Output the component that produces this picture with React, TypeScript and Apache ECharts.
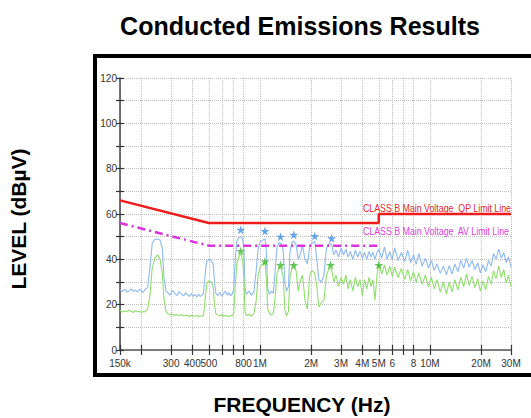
import React, { useEffect, useRef } from "react";
import * as echarts from "echarts";

// Measured trace: frequency (MHz), peak (QP scan, blue) and average (AV scan, green) levels in dBµV
const traceFreqMHz = [
  0.150, 0.155, 0.160, 0.165, 0.170, 0.175, 0.180, 0.185, 0.190, 0.195, 0.200, 0.205, 0.210, 0.218,
  0.225, 0.232, 0.240, 0.250, 0.258, 0.266, 0.272, 0.280,
  0.285, 0.295, 0.305, 0.315, 0.325, 0.335, 0.345, 0.355, 0.365, 0.375, 0.385, 0.395, 0.405, 0.415, 0.425, 0.435, 0.445, 0.455, 0.465,
  0.475, 0.485, 0.500, 0.515, 0.530, 0.540, 0.550,
  0.565, 0.580, 0.595, 0.610, 0.625, 0.640, 0.655, 0.670, 0.685, 0.700,
  0.715, 0.730, 0.750, 0.770, 0.790, 0.805, 0.815,
  0.830, 0.860, 0.890, 0.920,
  0.950, 0.975, 1.000, 1.040, 1.070, 1.090, 1.110, 1.140, 1.170, 1.200,
  1.230, 1.260, 1.300, 1.330, 1.370, 1.400, 1.430, 1.470,
  1.500, 1.540, 1.580, 1.630, 1.680, 1.720, 1.780, 1.840, 1.900, 1.960, 2.020, 2.100, 2.160, 2.220, 2.300, 2.380,
  2.460, 2.550, 2.640, 2.720, 2.800, 2.900, 3.000, 3.100, 3.200, 3.300, 3.400, 3.520, 3.640, 3.760, 3.880,
  4.000, 4.120, 4.250, 4.380, 4.500, 4.620, 4.750, 4.880,
  5.0, 5.2, 5.4, 5.6, 5.8, 6.0, 6.2, 6.5, 6.8, 7.1, 7.4, 7.7, 8.0, 8.3, 8.6, 9.0, 9.4, 9.8, 10.2, 10.6,
  11.0, 11.5, 12.0, 12.5, 13.0, 13.5, 14.0, 14.6, 15.2, 15.8, 16.4, 17.0, 17.7, 18.4, 19.1, 19.8, 20.5,
  21.3, 22.1, 22.9, 23.7, 24.5, 25.4, 26.3, 27.2, 28.1, 29.0, 30.0,
];

const peakTrace = [
  26.5, 25.8, 26.9, 25.5, 26.2, 27.0, 25.9, 26.4, 25.6, 26.8, 26.1, 25.4, 26.6, 27.5,
  36.0, 47.0, 48.8, 49.0, 48.5, 45.0, 32.0, 26.0,
  25.5, 24.2, 26.3, 25.1, 24.0, 25.8, 24.6, 23.9, 25.2, 24.4, 23.6, 24.9, 23.8, 24.5, 23.4, 24.7, 23.6, 24.2, 25.0,
  33.0, 39.0, 40.0, 39.5, 38.0, 30.0, 25.0,
  24.0, 25.5, 23.8, 24.9, 26.0, 24.2, 25.3, 23.9, 24.8, 26.5,
  40.0, 48.0, 49.5, 50.0, 49.0, 44.0, 28.0,
  24.5, 26.0, 24.2, 25.5,
  35.0, 45.0, 47.5, 48.5, 49.0, 44.0, 27.0, 24.5, 26.0, 25.0,
  36.0, 45.5, 47.5, 47.0, 44.0, 30.0, 26.0, 28.0,
  43.0, 47.5, 48.0, 46.5, 40.0, 42.0, 46.0, 40.0, 38.0, 45.0, 47.0, 48.0, 40.0, 31.0, 30.0, 33.0,
  45.0, 47.0, 46.5, 42.0, 44.0, 41.0, 45.0, 42.0, 44.5, 41.0, 43.5, 40.0, 44.0, 41.0, 43.5,
  40.5, 43.0, 40.0, 43.5, 41.0, 43.0, 40.0, 43.0,
  44.5, 40.5, 45.5, 40.0, 43.5, 39.8, 45.0, 39.5, 43.0, 39.0, 44.0, 38.5, 42.0, 37.8, 42.5, 37.0, 40.5, 36.2, 39.5, 35.0,
  38.0, 33.8, 37.0, 33.2, 37.2, 33.5, 38.0, 34.5, 39.5, 36.0, 40.5, 36.5, 39.5, 35.5, 38.5, 34.0, 37.5,
  34.5, 39.5, 37.0, 42.5, 40.0, 44.5, 40.5, 43.0, 38.5, 41.0, 36.5,
];

const avgTrace = [
  17.5, 16.8, 17.2, 16.9, 17.6, 17.0, 16.6, 17.3, 16.9, 17.1, 16.5, 17.0, 16.8, 18.0,
  24.0, 36.0, 40.5, 42.0, 40.0, 34.0, 23.0, 17.0,
  16.2, 15.5, 15.9, 15.3, 15.7, 15.1, 15.6, 15.0, 15.4, 15.2, 14.8, 15.3, 15.0, 14.9, 15.2, 14.7, 15.1, 14.9, 15.3,
  22.0, 29.0, 30.5, 30.0, 28.0, 20.0, 16.0,
  15.5, 15.0, 15.6, 14.8, 15.3, 15.1, 14.7, 15.2, 15.0, 16.0,
  28.0, 38.0, 41.0, 42.5, 40.0, 31.0, 17.0,
  15.2, 15.8, 14.9, 16.0,
  22.0, 33.0, 36.5, 38.0, 38.5, 32.0, 18.0, 16.0, 15.5, 16.5,
  24.0, 34.0, 36.5, 36.0, 32.0, 18.0, 15.0, 17.0,
  32.0, 36.0, 36.5, 35.0, 26.0, 30.0, 33.0, 22.0, 18.0, 33.0, 35.0, 34.0, 28.0, 19.0, 21.0, 22.0,
  33.0, 36.0, 35.5, 30.0, 33.0, 28.0, 32.0, 29.0, 33.0, 27.0, 31.0, 26.0, 32.0, 28.0, 31.0,
  24.0, 31.0, 27.0, 32.0, 28.0, 31.0, 22.0, 33.0,
  38.0, 33.5, 37.5, 33.0, 37.0, 32.5, 36.5, 32.0, 36.0, 31.2, 35.5, 30.5, 34.5, 29.8, 34.0, 29.0, 33.0, 28.0, 32.0, 27.0,
  31.0, 25.5, 30.0, 24.8, 30.0, 25.5, 31.0, 26.5, 32.0, 28.0, 33.5, 28.5, 32.5, 27.5, 31.5, 26.0, 30.5,
  26.5, 32.5, 29.0, 35.0, 31.5, 37.0, 32.0, 35.5, 29.5, 33.0, 28.0,
];

// Limit lines (CISPR 22 Class B, mains)
const qpLimitFreqMHz = [0.15, 0.5, 5, 5, 30];
const qpLimitLevel = [66, 56, 56, 60, 60];
const avLimitFreqMHz = [0.15, 0.5, 5];
const avLimitLevel = [56, 46, 46];

// Final measurement points (stars)
const qpPeakFreqMHz = [0.77, 1.07, 1.32, 1.58, 2.1, 2.64];
const qpPeakLevel = [53, 52.5, 50, 50.8, 50.3, 49.3];
const avPeakFreqMHz = [0.77, 1.07, 1.32, 1.58, 2.6, 5.0];
const avPeakLevel = [43.7, 39, 37.5, 37.5, 37.5, 37.5];

// Axis ticks and labels
const tickFreqMHz = [0.15, 0.2, 0.3, 0.4, 0.5, 0.6, 0.7, 0.8, 1, 2, 3, 4, 5, 6, 7, 8, 10, 20, 30];
const labelFreqMHz = [0.15, 0.3, 0.4, 0.5, 0.8, 1, 2, 3, 4, 5, 6, 8, 10, 20, 30];
const labelTexts = ["150k", "300", "400", "500", "800", "1M", "2M", "3M", "4M", "5M", "6", "8", "10M", "20M", "30M"];

const lg = (f: number) => Math.log10(f);
const pairs = (fs: number[], vs: number[]) => fs.map((f, i) => [lg(f), vs[i]]);

const STAR = "path://M50,0 L61,35 L98,35 L68,57 L79,91 L50,70 L21,91 L32,57 L2,35 L39,35 Z";
const FONT = '"Liberation Sans", Arial, sans-serif';

export default function App() {
  const ref = useRef<HTMLDivElement>(null);
  useEffect(() => {
    if (!ref.current) return;
    const chart = echarts.init(ref.current, null, { renderer: "svg" });
    const xMin = lg(0.15);
    const xMax = lg(30);
    const tickVals = tickFreqMHz.map(lg);
    const labelVals = labelFreqMHz.map(lg);
    const fmtX = (v: number) => {
      for (let i = 0; i < labelVals.length; i++) {
        if (Math.abs(labelVals[i] - v) < 1e-6) return labelTexts[i];
      }
      return "";
    };
    const option: any = {
      animation: false,
      backgroundColor: "#ffffff",
      grid: { left: 120, right: 20, top: 78, bottom: 68, containLabel: false },
      xAxis: [
        {
          type: "value",
          min: xMin,
          max: xMax,
          axisLine: { show: true, onZero: false, lineStyle: { color: "#555", width: 1.5 } },
          axisTick: { show: true, customValues: tickVals, length: 5, lineStyle: { color: "#333", width: 1.2 } },
          axisLabel: { customValues: labelVals, formatter: fmtX, fontSize: 10, color: "#333", margin: 8, fontFamily: FONT },
          splitLine: { show: true, lineStyle: { type: "dotted", color: "#bdbdbd", width: 1 } },
        },
        {
          type: "value",
          min: xMin,
          max: xMax,
          position: "bottom",
          axisLine: { show: false, onZero: false },
          axisTick: { show: true, inside: true, customValues: tickVals, length: 5, lineStyle: { color: "#333", width: 1.2 } },
          axisLabel: { show: false },
          splitLine: { show: false },
        },
      ],
      yAxis: [
        {
          type: "value",
          min: 0,
          max: 120,
          interval: 10,
          position: "left",
          axisLine: { show: true, onZero: false, lineStyle: { color: "#444", width: 1.5 } },
          axisTick: { show: true, length: 4, lineStyle: { color: "#333", width: 1.2 } },
          axisLabel: {
            formatter: (v: number) => (v % 20 === 0 ? String(v) : ""),
            fontSize: 10,
            color: "#333",
            margin: 3,
            fontFamily: FONT,
          },
          splitLine: { show: true, lineStyle: { type: "dotted", color: "#bdbdbd", width: 1 } },
        },
        {
          type: "value",
          min: 0,
          max: 120,
          interval: 10,
          position: "left",
          axisLine: { show: false, onZero: false },
          axisTick: { show: true, inside: true, length: 4, lineStyle: { color: "#333", width: 1.2 } },
          axisLabel: { show: false },
          splitLine: { show: false },
        },
      ],
      series: [
        {
          type: "line",
          name: "Peak",
          data: pairs(traceFreqMHz, peakTrace),
          showSymbol: false,
          lineStyle: { color: "#8dbaf2", width: 1.1 },
          z: 2,
        },
        {
          type: "line",
          name: "Average",
          data: pairs(traceFreqMHz, avgTrace),
          showSymbol: false,
          lineStyle: { color: "#8fe06a", width: 1.1 },
          z: 2,
        },
        {
          type: "line",
          name: "QP Limit",
          data: pairs(qpLimitFreqMHz, qpLimitLevel),
          showSymbol: false,
          lineStyle: { color: "#ee1c1c", width: 2.5 },
          z: 3,
        },
        {
          type: "line",
          name: "AV Limit",
          data: pairs(avLimitFreqMHz, avLimitLevel),
          showSymbol: false,
          lineStyle: { color: "#dd33dd", width: 2.5, type: [8, 4, 2, 4] },
          z: 3,
        },
        {
          type: "scatter",
          name: "QP points",
          data: pairs(qpPeakFreqMHz, qpPeakLevel),
          symbol: STAR,
          symbolSize: 9,
          itemStyle: { color: "#3f8fe6" },
          z: 4,
        },
        {
          type: "scatter",
          name: "AV points",
          data: pairs(avPeakFreqMHz, avPeakLevel),
          symbol: STAR,
          symbolSize: 9,
          itemStyle: { color: "#3cb82a" },
          z: 4,
        },
      ],
      graphic: [
        {
          type: "rect",
          shape: { x: 95, y: 56, width: 440, height: 319 },
          style: { fill: "none", stroke: "#000", lineWidth: 4 },
          z: 10,
        },
        {
          type: "text",
          x: 300,
          y: 26,
          style: { text: "Conducted Emissions Results", font: `bold 25px ${FONT}`, fill: "#000", align: "center", verticalAlign: "middle" },
        },
        {
          type: "text",
          x: 18,
          y: 219,
          rotation: Math.PI / 2,
          style: { text: "LEVEL (dBµV)", font: `bold 21px ${FONT}`, fill: "#000", align: "center", verticalAlign: "middle" },
        },
        {
          type: "text",
          x: 302,
          y: 404,
          style: { text: "FREQUENCY (Hz)", font: `bold 21px ${FONT}`, fill: "#000", align: "center", verticalAlign: "middle" },
        },
        {
          type: "text",
          x: 363,
          y: 208,
          scaleX: 0.8,
          style: { text: "CLASS B Main Voltage  QP Limit Line", font: `11px ${FONT}`, fill: "#e3262a", align: "left", verticalAlign: "middle" },
          z: 5,
        },
        {
          type: "text",
          x: 363,
          y: 231,
          scaleX: 0.8,
          style: { text: "CLASS B Main Voltage  AV Limit Line", font: `11px ${FONT}`, fill: "#e040e0", align: "left", verticalAlign: "middle" },
          z: 5,
        },
      ],
    };
    chart.setOption(option);
    return () => chart.dispose();
  }, []);
  return (
    <div
      ref={ref}
      style={{ position: "fixed", left: 0, top: 0, width: 531, height: 418, background: "#fff" }}
    />
  );
}
